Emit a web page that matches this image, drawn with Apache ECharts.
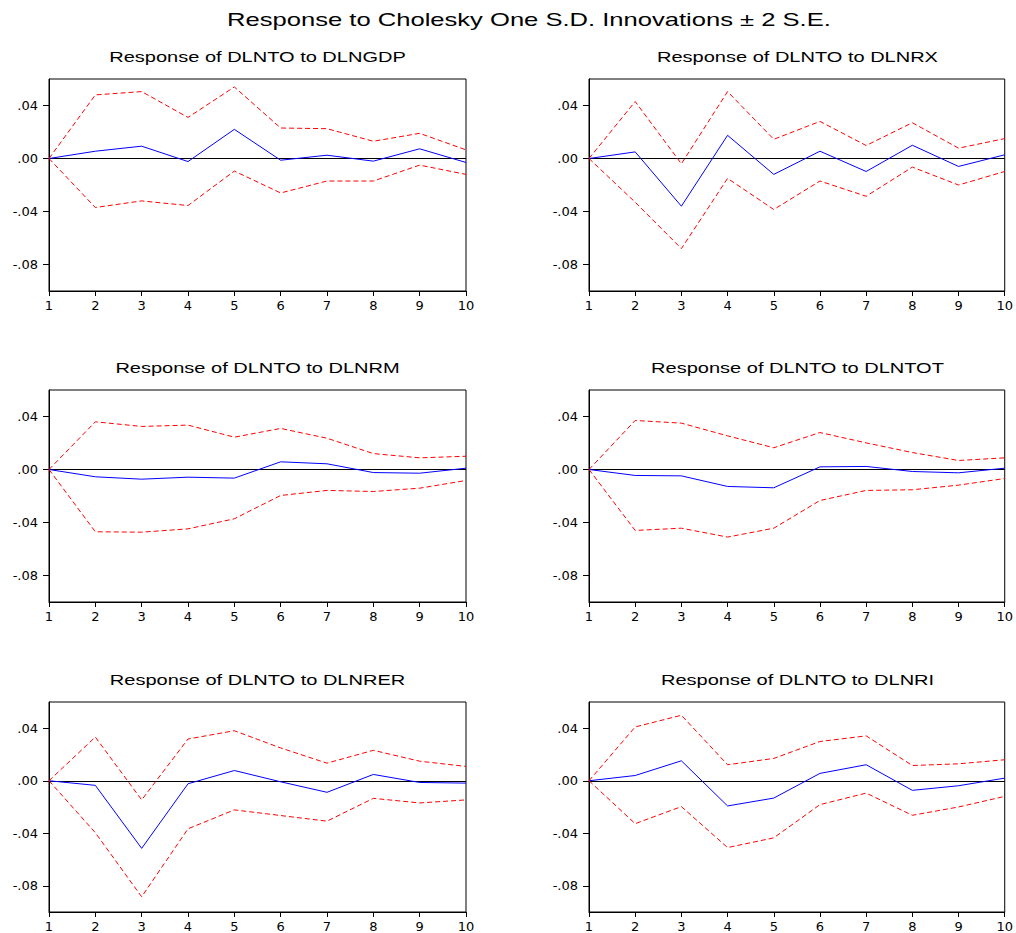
<!DOCTYPE html>
<html>
<head>
<meta charset="utf-8">
<script src="https://cdn.jsdelivr.net/npm/echarts@6/dist/echarts.min.js"></script>
<style>
html,body{margin:0;padding:0;background:#fff;}
#chart{width:1016px;height:933px;}
</style>
</head>
<body>
<div id="chart"></div>
<script>
const periods = ['1','2','3','4','5','6','7','8','9','10'];
const yTicks = [-0.08, -0.04, 0, 0.04];
const mainTitle = 'Response to Cholesky One S.D. Innovations \u00B1 2 S.E.';
const panelTitles = [
  'Response of DLNTO to DLNGDP',
  'Response of DLNTO to DLNRX',
  'Response of DLNTO to DLNRM',
  'Response of DLNTO to DLNTOT',
  'Response of DLNTO to DLNRER',
  'Response of DLNTO to DLNRI'
];
// Impulse responses (blue)
const respGDP = [0, 0.0055, 0.0093, -0.0023, 0.022, -0.0013, 0.0025, -0.002, 0.0073, -0.003];
const respRX  = [0, 0.005, -0.036, 0.0175, -0.012, 0.0055, -0.0098, 0.010, -0.006, 0.0028];
const respRM  = [0, -0.0055, -0.0073, -0.0058, -0.0065, 0.0058, 0.0043, -0.0023, -0.0028, 0.001];
const respTOT = [0, -0.0045, -0.0048, -0.0128, -0.0138, 0.002, 0.0023, -0.0015, -0.0025, 0.001];
const respRER = [0, -0.0035, -0.0515, -0.0023, 0.0078, -0.0008, -0.0088, 0.0048, -0.0013, -0.0018];
const respRI  = [0, 0.004, 0.0152, -0.0192, -0.0132, 0.0056, 0.0122, -0.0073, -0.0038, 0.002];
// Upper bands (+2 S.E.)
const upGDP = [0, 0.048, 0.0505, 0.031, 0.054, 0.023, 0.0225, 0.013, 0.019, 0.0065];
const upRX  = [0, 0.043, -0.004, 0.0505, 0.0145, 0.028, 0.0098, 0.027, 0.0078, 0.015];
const upRM  = [0, 0.036, 0.0325, 0.0335, 0.0244, 0.031, 0.0236, 0.012, 0.0088, 0.010];
const upTOT = [0, 0.037, 0.035, 0.0254, 0.0164, 0.0279, 0.0201, 0.0128, 0.0068, 0.0088];
const upRER = [0, 0.0333, -0.0146, 0.0318, 0.0381, 0.025, 0.0134, 0.0232, 0.0149, 0.0109];
const upRI  = [0, 0.041, 0.0499, 0.0122, 0.017, 0.0299, 0.0342, 0.0116, 0.0129, 0.016];
// Lower bands (-2 S.E.)
const loGDP = [0, -0.037, -0.032, -0.0355, -0.0095, -0.026, -0.017, -0.017, -0.005, -0.012];
const loRX  = [0, -0.033, -0.068, -0.015, -0.0385, -0.017, -0.0285, -0.0065, -0.02, -0.0098];
const loRM  = [0, -0.047, -0.0473, -0.0448, -0.0372, -0.0196, -0.0158, -0.0166, -0.0141, -0.0083];
const loTOT = [0, -0.046, -0.0443, -0.051, -0.0443, -0.0234, -0.0158, -0.0153, -0.0118, -0.0068];
const loRER = [0, -0.0396, -0.0884, -0.0366, -0.0222, -0.0265, -0.0308, -0.0134, -0.0169, -0.0146];
const loRI  = [0, -0.0327, -0.0197, -0.0509, -0.0435, -0.0182, -0.0094, -0.0263, -0.02, -0.0119];

const resp = [respGDP, respRX, respRM, respTOT, respRER, respRI];
const upper = [upGDP, upRX, upRM, upTOT, upRER, upRI];
const lower = [loGDP, loRX, loRM, loTOT, loRER, loRI];

const TFONT = '"Liberation Sans", Arial, sans-serif';
const AFONT = '"DejaVu Sans", sans-serif';
const colLeft = [49, 589];
const rowTop = [79, 390, 702];
const gridW = 417, gridH = 212;

function fmt(v) {
  const r = Math.round(v * 100) / 100;
  let s = Math.abs(r).toFixed(2).replace(/^0/, '');
  return (r < 0 ? '-' : '') + s;
}

function titleText(text, cx, cy, size, sx) {
  return {
    type: 'text', x: cx, y: cy, scaleX: sx, scaleY: 1, silent: true, z: 10,
    style: {
      text: text, fontFamily: TFONT, fontSize: size, fill: '#000',
      align: 'center', verticalAlign: 'middle'
    }
  };
}

const grids = [], xAxes = [], yAxes = [], series = [];
const graphics = [titleText(mainTitle, 529, 20, 18.8, 1.36)];
for (let i = 0; i < 6; i++) {
  const c = i % 2, r = Math.floor(i / 2);
  const left = colLeft[c], top = rowTop[r];
  grids.push({left: left, top: top, width: gridW, height: gridH,
    show: true, borderColor: '#000', borderWidth: 1, backgroundColor: 'transparent'});
  graphics.push(titleText(panelTitles[i], left + gridW / 2, top - 22, 14.5, 1.38));
  xAxes.push({
    type: 'category', gridIndex: i, data: periods, boundaryGap: false,
    axisLine: {show: true, onZero: false, lineStyle: {color: '#000', width: 1}},
    axisTick: {show: true, length: 5, inside: false, alignWithLabel: true, lineStyle: {color: '#000'}},
    axisLabel: {fontFamily: AFONT, fontSize: 13, color: '#000', margin: 8, interval: 0},
    splitLine: {show: false}
  });
  yAxes.push({
    type: 'value', gridIndex: i, min: -0.1, max: 0.06,
    axisLine: {show: true, lineStyle: {color: '#000', width: 1}},
    axisTick: {show: true, length: 6, inside: false, customValues: yTicks, lineStyle: {color: '#000'}},
    axisLabel: {fontFamily: AFONT, fontSize: 13, color: '#000', margin: 11,
      customValues: yTicks, formatter: fmt},
    splitLine: {show: false}
  });
  series.push({
    type: 'line', xAxisIndex: i, yAxisIndex: i, data: resp[i],
    symbol: 'none', lineStyle: {color: '#0000FF', width: 1}, z: 3, silent: true,
    markLine: {
      silent: true, symbol: ['none', 'none'], label: {show: false},
      lineStyle: {color: '#000', width: 1, type: 'solid'},
      data: [{yAxis: 0}], z: 1, animation: false
    },
    animation: false
  });
  series.push({
    type: 'line', xAxisIndex: i, yAxisIndex: i, data: upper[i],
    symbol: 'none', lineStyle: {color: '#FF0000', width: 1, type: [5, 3]}, z: 4, silent: true,
    animation: false
  });
  series.push({
    type: 'line', xAxisIndex: i, yAxisIndex: i, data: lower[i],
    symbol: 'none', lineStyle: {color: '#FF0000', width: 1, type: [5, 3]}, z: 4, silent: true,
    animation: false
  });
}

const chart = echarts.init(document.getElementById('chart'), null, {renderer: 'svg'});
chart.setOption({
  backgroundColor: '#fff',
  animation: false,
  grid: grids,
  xAxis: xAxes,
  yAxis: yAxes,
  series: series,
  graphic: graphics
});
</script>
</body>
</html>
